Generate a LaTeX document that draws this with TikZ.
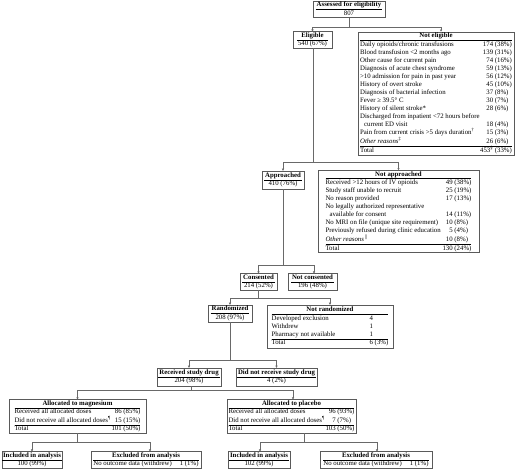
\documentclass[tikz,border=0pt]{standalone}
\usepackage{fontspec}
\setmainfont{Liberation Serif}
\usetikzlibrary{arrows.meta,calc}
\definecolor{bordergray}{RGB}{90,90,90}
\definecolor{linegray}{RGB}{105,105,105}
\setlength{\arrayrulewidth}{0.5pt}
\newcommand{\simplebox}[2]{\begin{tabular}{@{\hspace{1pt}}c@{\hspace{1pt}}}\textbf{#1}\\\hline #2\end{tabular}}
\tikzset{
  every node/.style={font=\fontsize{6.8}{8}\selectfont},
  box/.style={draw=bordergray, line width=0.8pt, inner sep=0pt, outer sep=0pt, fill=white},
  conn/.style={draw=linegray, line width=0.8pt},
  arr/.style={conn, -{Latex[length=2.4pt,width=2.4pt]}},
}
\begin{document}
\begin{tikzpicture}[x=1pt,y=-1pt]
\useasboundingbox (0,0) rectangle (520,469);
\fill[white] (0,0) rectangle (520,469);

% ---------- boxes ----------
\node[box, minimum width=72pt, minimum height=15pt] (assess) at (349,9.5) {\simplebox{Assessed for eligibility}{807}};
\node[box, minimum width=39pt, minimum height=16pt] (elig) at (312.5,40) {\simplebox{Eligible}{540 (67\%)}};
\node[box, minimum width=156pt, minimum height=123pt] (nelig) at (436,93.5) {%
\begin{tabular}{@{}p{120pt}@{}r@{\ }l@{}}
\multicolumn{3}{c}{\textbf{Not eligible}}\\\hline
Daily opioids/chronic transfusions & 174 & (38\%)\\
Blood transfusion <2 months ago & 139 & (31\%)\\
Other cause for current pain & 74 & (16\%)\\
Diagnosis of acute chest syndrome & 59 & (13\%)\\
>10 admission for pain in past year & 56 & (12\%)\\
History of overt stroke & 45 & (10\%)\\
Diagnosis of bacterial infection & 37 & (8\%)\\
Fever ≥ 39.5° C & 30 & (7\%)\\
History of silent stroke* & 28 & (6\%)\\
Discharged from inpatient <72 hours before & & \\
\hspace{4pt}current ED visit & 18 & (4\%)\\
Pain from current crisis >5 days duration\textsuperscript{†} & 15 & (3\%)\\
\textit{Other reasons}\textsuperscript{‡} & 26 & (6\%)\\\hline
Total & 453\textsuperscript{§} & (33\%)
\end{tabular}};

\node[box, minimum width=42pt, minimum height=18pt] (appr) at (283,180) {\simplebox{Approached}{410 (76\%)}};
\node[box, minimum width=161pt, minimum height=81pt] (nappr) at (398.5,211.5) {%
\begin{tabular}{@{}p{117pt}@{}r@{\ }l@{}}
\multicolumn{3}{c}{\textbf{Not approached}}\\\hline
Received >12 hours of IV opioids & 49 & (38\%)\\
Study staff unable to recruit & 25 & (19\%)\\
No reason provided & 17 & (13\%)\\
No legally authorized representative & & \\
\hspace{4pt}available for consent & 14 & (11\%)\\
No MRI on file (unique site requirement) & 10 & (8\%)\\
Previously refused during clinic education & 5 & (4\%)\\
\textit{Other reasons}\textsuperscript{$\|$} & 10 & (8\%)\\\hline
Total & 130 & (24\%)
\end{tabular}};

\node[box, minimum width=37pt, minimum height=16pt] (cons) at (258.5,282) {\simplebox{Consented}{214 (52\%)}};
\node[box, minimum width=49pt, minimum height=16pt] (ncons) at (312.5,282) {\simplebox{Not consented}{196 (48\%)}};

\node[box, minimum width=44pt, minimum height=17pt] (rand) at (230,313.5) {\simplebox{Randomized}{208 (97\%)}};
\node[box, minimum width=126pt, minimum height=43pt] (nrand) at (330,326.5) {%
\begin{tabular}{@{}p{98pt}@{}l@{}}
\multicolumn{2}{c}{\textbf{Not randomized}}\\\hline
Developed exclusion & 4\\
Withdrew & 1\\
Pharmacy not available & 1\\\hline
Total & 6 (3\%)
\end{tabular}};

\node[box, minimum width=64pt, minimum height=18pt] (recv) at (189,377) {\simplebox{Received study drug}{204 (98\%)}};
\node[box, minimum width=81pt, minimum height=18pt] (nrecv) at (276.5,377) {\simplebox{Did not receive study drug}{4 (2\%)}};

\node[box, minimum width=137pt, minimum height=33pt] (mg) at (77.5,416.5) {%
\begin{tabular}{@{}p{97pt}@{}r@{\ }l@{}}
\multicolumn{3}{c}{\textbf{Allocated to magnesium}}\\\hline
Received all allocated doses & 86 & (85\%)\\
Did not receive all allocated doses\textsuperscript{¶} & 15 & (15\%)\\\hline
Total & 101 & (50\%)
\end{tabular}};
\node[box, minimum width=129pt, minimum height=33pt] (pl) at (291.5,416.5) {%
\begin{tabular}{@{}p{97pt}@{}r@{\ }l@{}}
\multicolumn{3}{c}{\textbf{Allocated to placebo}}\\\hline
Received all allocated doses & 96 & (93\%)\\
Did not receive all allocated doses\textsuperscript{¶} & 7 & (7\%)\\\hline
Total & 103 & (50\%)
\end{tabular}};

\node[box, minimum width=60pt, minimum height=16pt] (inmg) at (32,460) {\simplebox{Included in analysis}{100 (99\%)}};
\node[box, minimum width=110pt, minimum height=16pt] (exmg) at (146,460) {%
\begin{tabular}{@{}l@{\hspace{8pt}}l@{}}
\multicolumn{2}{c}{\textbf{Excluded from analysis}}\\\hline
No outcome data (withdrew) & 1 (1\%)
\end{tabular}};
\node[box, minimum width=62pt, minimum height=16pt] (inpl) at (259,460) {\simplebox{Included in analysis}{102 (99\%)}};
\node[box, minimum width=112pt, minimum height=16pt] (expl) at (376,460) {%
\begin{tabular}{@{}l@{\hspace{8pt}}l@{}}
\multicolumn{2}{c}{\textbf{Excluded from analysis}}\\\hline
No outcome data (withdrew) & 1 (1\%)
\end{tabular}};

% ---------- connectors ----------
\coordinate (j1) at ($(assess.south)+(0,10)$);
\draw[conn] (assess.south) -- (j1);
\draw[arr] (j1) -| (elig.north);
\draw[arr] (j1) -| ([xshift=5pt]nelig.north);

\coordinate (j2) at ($(elig.south)+(0.5,114)$);
\draw[conn] ([xshift=0.5pt]elig.south) -- (j2);
\draw[arr] (j2) -| (appr.north);
\draw[arr] (j2) -| (nappr.north);

\coordinate (j3) at ($(appr.south)+(0,76)$);
\draw[conn] (appr.south) -- (j3);
\draw[arr] (j3) -| (cons.north);
\draw[arr] (j3) -| ([xshift=1.5pt]ncons.north);

\coordinate (j4) at ($(cons.south)+(0,8)$);
\draw[conn] (cons.south) -- (j4);
\draw[arr] (j4) -| (rand.north);
\draw[arr] (j4) -| (nrand.north);

\coordinate (j5) at ($(rand.south)+(0,38)$);
\draw[conn] (rand.south) -- (j5);
\draw[arr] (j5) -| (recv.north);
\draw[arr] (j5) -| (nrecv.north);

\coordinate (j6) at ($([xshift=2pt]recv.south)+(0,4)$);
\draw[conn] ([xshift=2pt]recv.south) -- (j6);
\draw[arr] (j6) -| (mg.north);
\draw[arr] (j6) -| ([xshift=1.5pt]pl.north);

\coordinate (j7) at ($(mg.south)+(0,9)$);
\draw[conn] (mg.south) -- (j7);
\draw[arr] (j7) -| (inmg.north);
\draw[arr] (j7) -| ([xshift=4pt]exmg.north);

\coordinate (j8) at ($([xshift=12.5pt]pl.south)+(0,9)$);
\draw[conn] ([xshift=12.5pt]pl.south) -- (j8);
\draw[arr] (j8) -| ([xshift=1pt]inpl.north);
\draw[arr] (j8) -| ([xshift=1pt]expl.north);
\end{tikzpicture}
\end{document}
